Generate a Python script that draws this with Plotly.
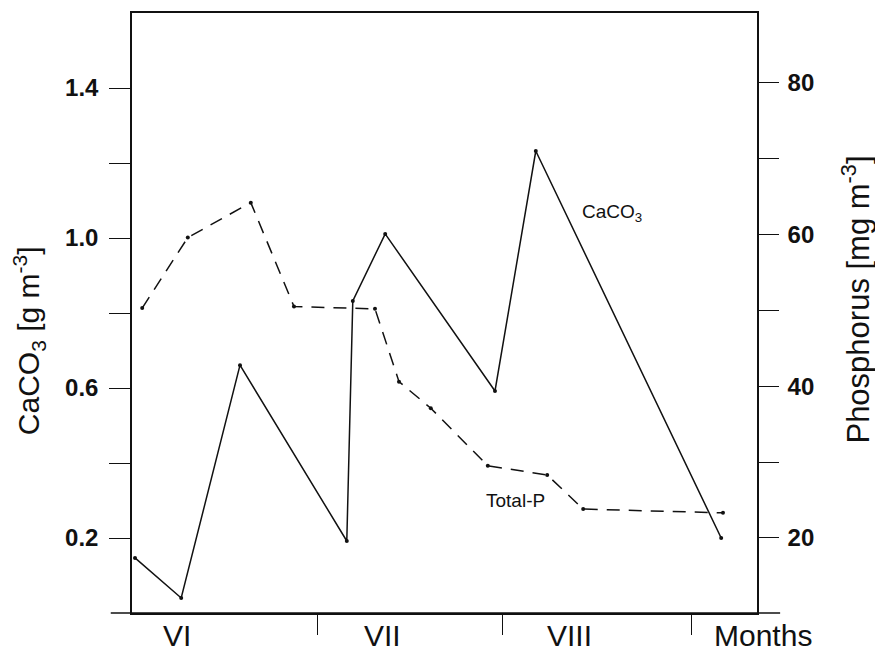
import plotly.graph_objects as go

# ---- data (x in days from start of June) ----
caco3_day = [0.5, 8.2, 18.0, 35.8, 36.8, 42.2, 60.5, 67.3, 98.2]
caco3_val = [0.147, 0.040, 0.661, 0.192, 0.832, 1.011, 0.592, 1.232, 0.200]

p_day = [1.7, 9.3, 19.8, 27.0, 40.5, 44.5, 49.8, 59.3, 69.2, 75.2, 98.5]
p_val = [50.3, 59.6, 64.2, 50.5, 50.2, 40.6, 37.1, 29.5, 28.3, 23.8, 23.3]

month_bounds = [31.0, 61.8, 93.2]
month_names = ["VI", "VII", "VIII"]
month_label_day = [7.5, 41.7, 73.0]

left_major = [0.2, 0.6, 1.0, 1.4]
left_minor = [0.4, 0.8, 1.2]
right_major = [20, 40, 60, 80]
right_minor = [30, 50, 70]

FONT = "Liberation Sans, Arial, sans-serif"
INK = "#111111"

fig = go.Figure()
fig.add_trace(go.Scatter(
    x=caco3_day, y=caco3_val, mode="lines+markers", yaxis="y",
    line=dict(color=INK, width=1.5), marker=dict(color=INK, size=4),
    showlegend=False, cliponaxis=False))
fig.add_trace(go.Scatter(
    x=p_day, y=p_val, mode="lines+markers", yaxis="y2",
    line=dict(color=INK, width=1.5, dash="13px,9px"), marker=dict(color=INK, size=4),
    showlegend=False, cliponaxis=False))

fig.update_layout(
    width=875, height=652, autosize=False,
    margin=dict(l=132, r=118, t=13, b=39),
    paper_bgcolor="white", plot_bgcolor="white",
    font=dict(family=FONT, color=INK),
    xaxis=dict(range=[0, 104.17], showgrid=False, zeroline=False,
               showline=True, mirror=True, linecolor=INK, linewidth=1.5,
               ticks="outside", ticklen=20, tickwidth=1, tickcolor=INK,
               tickmode="array", tickvals=month_bounds, showticklabels=False),
    yaxis=dict(range=[0, 1.6], showgrid=False, zeroline=False,
               showline=True, linecolor=INK, linewidth=1.5,
               ticks="outside", ticklen=21, tickwidth=1, tickcolor=INK,
               tickmode="array", tickvals=left_major, ticktext=["0.2", "0.6", "1.0", "1.4"],
               ticklabelstandoff=6,
               minor=dict(tickmode="array", tickvals=left_minor, ticks="outside",
                          ticklen=21, tickwidth=1, tickcolor=INK, showgrid=False),
               tickfont=dict(size=24, family=FONT, weight="bold", color=INK)),
    yaxis2=dict(range=[10.1, 89.2], overlaying="y", side="right",
                showgrid=False, zeroline=False,
                showline=True, linecolor=INK, linewidth=1.5,
                ticks="outside", ticklen=20, tickwidth=1, tickcolor=INK,
                tickmode="array", tickvals=right_major, ticktext=["20", "40", "60", "80"],
                ticklabelstandoff=4,
                minor=dict(tickmode="array", tickvals=right_minor, ticks="outside",
                           ticklen=20, tickwidth=1, tickcolor=INK, showgrid=False),
                tickfont=dict(size=24, family=FONT, weight="bold", color=INK)),
)

# extended bottom axis line
fig.add_shape(type="line", xref="paper", yref="paper", x0=-0.034, x1=1.037, y0=0, y1=0,
              line=dict(color=INK, width=1.5))

annos = []
for name, d in zip(month_names, month_label_day):
    annos.append(dict(x=d, y=-0.037, xref="x", yref="paper", text=name, showarrow=False,
                      font=dict(size=30, family=FONT, color=INK), xanchor="center", yanchor="middle"))
annos.append(dict(x=1.0096, y=-0.037, xref="paper", yref="paper", text="Months", showarrow=False,
                  font=dict(size=30, family=FONT, color=INK), xanchor="center", yanchor="middle"))
annos.append(dict(x=-0.1648, y=0.453, xref="paper", yref="paper",
                  text="CaCO<sub>3</sub> [g m<sup>-3</sup>]", textangle=-90, showarrow=False,
                  font=dict(size=30, family=FONT, color=INK), xanchor="center", yanchor="middle"))
annos.append(dict(x=1.158, y=0.522, xref="paper", yref="paper",
                  text="Phosphorus [mg m<sup>-3</sup>]", textangle=-90, showarrow=False,
                  font=dict(size=31, family=FONT, color=INK), xanchor="center", yanchor="middle"))
annos.append(dict(x=80, y=1.067, xref="x", yref="y", text="CaCO<sub>3</sub>", showarrow=False,
                  font=dict(size=19, family=FONT, color=INK), xanchor="center", yanchor="middle"))
annos.append(dict(x=64, y=0.299, xref="x", yref="y", text="Total-P", showarrow=False,
                  font=dict(size=19, family=FONT, color=INK), xanchor="center", yanchor="middle"))
fig.update_layout(annotations=annos)

fig.write_html("out.html")
